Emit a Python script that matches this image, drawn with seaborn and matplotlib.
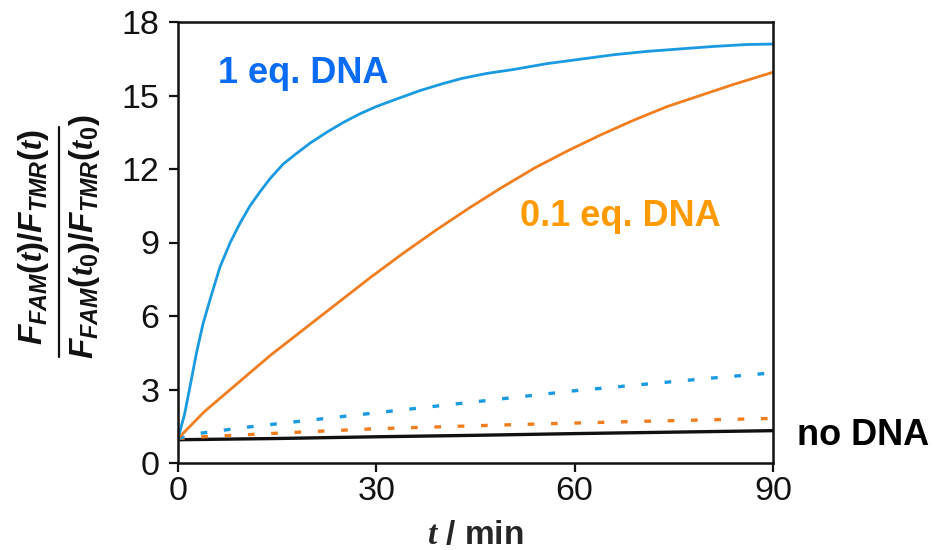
import matplotlib
matplotlib.use("Agg")
import matplotlib.pyplot as plt
from matplotlib.lines import Line2D
import seaborn as sns
import pandas as pd

# ---- data ----
t_1eq = [0, 1.0, 1.8, 2.8, 3.8, 5.1, 6.35, 7.9, 9.4, 10.9, 12.4, 13.9, 15.9, 18, 20, 22.5,
         25, 27.5, 30, 33, 36.6, 40, 43, 46.7, 50.7, 55.8, 60.8, 65.8, 70.9, 75.9, 80.9,
         86, 90]
v_1eq = [1.0, 2.0, 3.1, 4.5, 5.7, 6.9, 8.0, 9.0, 9.8, 10.5, 11.07, 11.6, 12.2, 12.65, 13.06,
         13.5, 13.9, 14.25, 14.55, 14.85, 15.2, 15.48, 15.7, 15.9, 16.06, 16.3, 16.48, 16.66,
         16.8, 16.9, 17.0, 17.08, 17.1]

t_01eq = [0, 4, 9, 14, 19, 24, 29, 34, 39, 44, 49, 54, 59, 64, 69, 74, 79, 84, 90]
v_01eq = [1.0, 2.1, 3.25, 4.4, 5.45, 6.5, 7.55, 8.55, 9.5, 10.4, 11.25, 12.05, 12.75, 13.4,
          14.0, 14.55, 15.0, 15.45, 15.95]

t_ctrl = [0, 3, 10, 20, 30, 40, 50, 60, 70, 80, 90]
v_1eq_ctrl = [1.0, 1.2, 1.45, 1.75, 2.05, 2.35, 2.65, 2.95, 3.2, 3.45, 3.68]
v_01eq_ctrl = [1.0, 1.06, 1.15, 1.28, 1.4, 1.48, 1.56, 1.63, 1.7, 1.76, 1.82]

t_none = [0, 15, 30, 45, 60, 75, 90]
v_none = [0.95, 1.0, 1.07, 1.13, 1.2, 1.26, 1.32]

x_ticks = [0, 30, 60, 90]
y_ticks = [0, 3, 6, 9, 12, 15, 18]

BLUE = "#1a9ae0"
ORANGE = "#f07d1e"
BLUE_TXT = "#0a6cf5"
ORANGE_TXT = "#ff9a00"

sns.set_theme(style="ticks")
plt.rcParams["font.family"] = ["Liberation Sans", "DejaVu Sans"]
plt.rcParams["mathtext.fontset"] = "custom"
plt.rcParams["mathtext.it"] = "Liberation Sans:bold:italic"
plt.rcParams["mathtext.rm"] = "Liberation Sans:bold"
plt.rcParams["mathtext.bf"] = "Liberation Sans:bold"
plt.rcParams["mathtext.sf"] = "Liberation Serif:bold:italic"

fig = plt.figure(figsize=(9.33, 5.5), dpi=100)
ax = fig.add_axes([178 / 933, 1 - 463 / 550, (773 - 178) / 933, (463 - 22) / 550])

df_1 = pd.DataFrame({"t": t_1eq, "v": v_1eq})
df_01 = pd.DataFrame({"t": t_01eq, "v": v_01eq})
df_c = pd.DataFrame({"t": t_ctrl, "b": v_1eq_ctrl, "o": v_01eq_ctrl})
df_n = pd.DataFrame({"t": t_none, "v": v_none})

sns.lineplot(data=df_n, x="t", y="v", ax=ax, color="#111111", lw=2.4)
sns.lineplot(data=df_c, x="t", y="o", ax=ax, color=ORANGE, lw=2.4)
ax.lines[-1].set_dashes((2.0, 5.0))
sns.lineplot(data=df_c, x="t", y="b", ax=ax, color=BLUE, lw=2.4)
ax.lines[-1].set_dashes((2.0, 5.0))
sns.lineplot(data=df_01, x="t", y="v", ax=ax, color=ORANGE, lw=2.0)
sns.lineplot(data=df_1, x="t", y="v", ax=ax, color=BLUE, lw=2.0)

ax.set_xlim(0, 90)
ax.set_ylim(0, 18)
ax.set_xticks(x_ticks)
ax.set_yticks(y_ticks)
ax.tick_params(direction="out", length=6.5, width=1.6, labelsize=24.5, colors="#111111")
ax.tick_params(axis="y", pad=7)
ax.tick_params(axis="x", pad=3)
for s in ax.spines.values():
    s.set_visible(True)
    s.set_linewidth(1.8)
    s.set_color("#111111")

ax.set_xlabel(r"$\mathsf{t}$ / min", fontsize=24, fontweight="bold", labelpad=9)
ax.set_ylabel("")

# y-axis label drawn as a stacked fraction
num = (r"$\mathit{F}_{\mathit{FAM}}(\mathsf{t})/\mathit{F}_{\mathit{TMR}}(\mathsf{t})$")
den = (r"$\mathit{F}_{\mathit{FAM}}(\mathsf{t}_{0})/\mathit{F}_{\mathit{TMR}}(\mathsf{t}_{0})$")
fig.text(34 / 933, 1 - 237 / 550, num, rotation=90, fontsize=24, ha="center", va="center",
         rotation_mode="anchor", color="#111111")
fig.text(85 / 933, 1 - 237 / 550, den, rotation=90, fontsize=24, ha="center", va="center",
         rotation_mode="anchor", color="#111111")
fig.add_artist(Line2D([59 / 933, 59 / 933], [1 - 357 / 550, 1 - 127 / 550],
                      transform=fig.transFigure, color="#111111", lw=1.6))

fig.text(218 / 933, 1 - 83 / 550, "1 eq. DNA", fontsize=26, fontweight="bold",
         color=BLUE_TXT, va="baseline")
fig.text(520 / 933, 1 - 226 / 550, "0.1 eq. DNA", fontsize=26, fontweight="bold",
         color=ORANGE_TXT, va="baseline")
fig.text(797 / 933, 1 - 445 / 550, "no DNA", fontsize=26, fontweight="bold",
         color="#000000", va="baseline")

fig.savefig("out.png", dpi=100)
